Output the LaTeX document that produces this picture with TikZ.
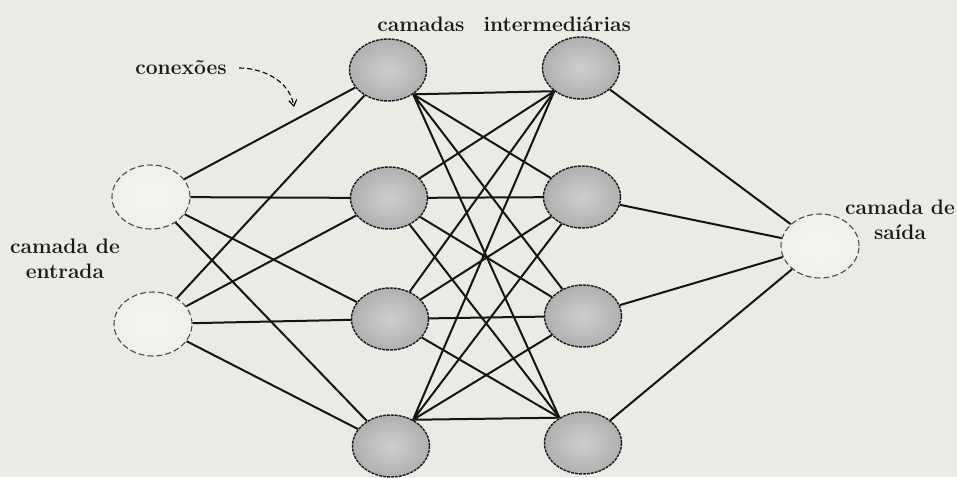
\documentclass[tikz,border=0pt]{standalone}
\usepackage{tikz}
\usetikzlibrary{arrows.meta,positioning,shapes.geometric}

\definecolor{paper}{RGB}{233,235,229}
\pgfdeclareradialshading{hiddenball}{\pgfpoint{0bp}{0bp}}{color(0bp)=(gray!38); color(18bp)=(gray!55); color(50bp)=(gray!88)}
\pgfdeclareradialshading{edgeball}{\pgfpoint{0bp}{0bp}}{color(0bp)=(paper!50!white); color(35bp)=(paper!85!white); color(50bp)=(gray!35)}

\begin{document}
\begin{tikzpicture}[
    x=1pt, y=1pt,
    >={Straight Barb[length=6pt,width=8pt]},
    every node/.style={font=\fontsize{21}{25}\selectfont\bfseries, text=black!90},
    hidden/.style={ellipse, draw=black!90, line width=1.4pt,
        dash pattern=on 3pt off 1pt, shading=hiddenball,
        minimum width=77pt, minimum height=62pt, inner sep=0pt},
    outer/.style={ellipse, draw=black!70, line width=1.1pt,
        dash pattern=on 6pt off 3pt, shading=edgeball,
        minimum width=78pt, minimum height=64pt, inner sep=0pt},
    link/.style={line width=2pt, black!92}
]

% page
\fill[paper] (0,0) rectangle (957,477);
\useasboundingbox (0,0) rectangle (957,477);

% input layer
\node[outer] (in1) at (151,280) {};
\node[outer] (in2) at (153,153) {};

% first hidden layer
\node[hidden] (ha1) at (388,407) {};
\node[hidden] (ha2) at (389,279) {};
\node[hidden] (ha3) at (390,158) {};
\node[hidden] (ha4) at (391,31) {};

% second hidden layer
\node[hidden] (hb1) at (581,409) {};
\node[hidden] (hb2) at (582,280) {};
\node[hidden] (hb3) at (583,161) {};
\node[hidden] (hb4) at (583,34) {};

% output layer
\node[outer] (out) at (820,231) {};

% connections input -> first hidden
\draw[link] (in1) -- (ha1) (in1) -- (ha2) (in1) -- (ha3) (in1) -- (ha4);
\draw[link] (in2) -- (ha1) (in2) -- (ha2) (in2) -- (ha3) (in2) -- (ha4);

% connections first hidden -> second hidden
\draw[link] (ha1.-44) -- (hb1.221) (ha1.-44) -- (hb2) (ha1.-44) -- (hb3) (ha1.-44) -- (hb4.133);
\draw[link] (ha2) -- (hb1.221) (ha2) -- (hb2) (ha2) -- (hb3) (ha2) -- (hb4.133);
\draw[link] (ha3) -- (hb1.221) (ha3) -- (hb2) (ha3) -- (hb3) (ha3) -- (hb4.133);
\draw[link] (ha4.50) -- (hb1.221) (ha4.50) -- (hb2) (ha4.50) -- (hb3) (ha4.50) -- (hb4.133);

% connections second hidden -> output
\draw[link] (hb1) -- (out) (hb2) -- (out) (hb3) -- (out) (hb4) -- (out);

% labels
\node (lblcam) at (421,453) {camadas};
\node[right=12pt of lblcam] (lblinter) {intermediárias};
\node[align=center] (lblin) at (65,218) {camada de\\entrada};
\node[align=center] (lblout) at (900,257) {camada de\\saída};

% pointer to the connections
\node (conex) at (181,409) {conexões};
\coordinate (cxtip) at (294,370);
\draw[->, line width=1.1pt, dash pattern=on 5pt off 3pt, shorten <=9pt]
    (conex.east) to[out=0, in=100] (cxtip);

\end{tikzpicture}
\end{document}
